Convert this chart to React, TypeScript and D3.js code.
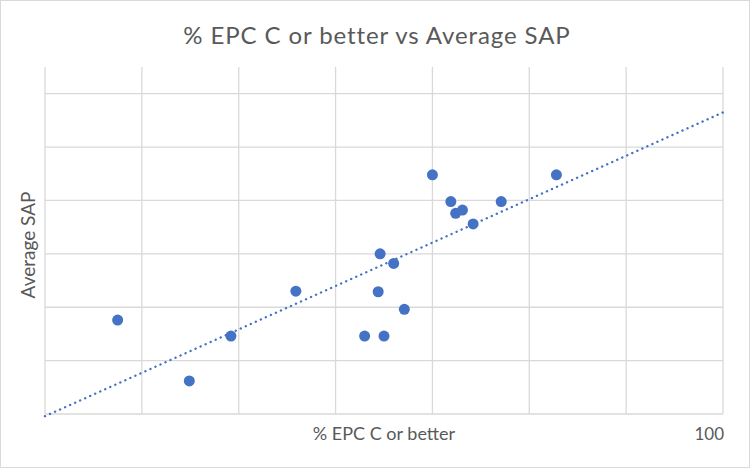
import * as d3 from "d3";

// % EPC C or better (x) against average SAP (y), one point per area
const EPC_PCT = [
  37.5, 44.9, 49.2, 55.9, 63.0, 65.0, 64.4, 64.6, 66.0, 67.1, 70.0, 71.9, 72.4,
  73.1, 74.2, 77.1, 82.8,
];
const AVG_SAP = [
  48.8, 43.1, 47.3, 51.5, 47.3, 47.3, 51.45, 55.0, 54.1, 49.8, 62.4, 59.9, 58.8,
  59.1, 57.8, 59.9, 62.4,
];
const X_DOMAIN = [30, 100];
const Y_DOMAIN = [40, 72.5];
const X_TICK_LABELS = ["100"];

const W = 751;
const H = 470;
const margin = { top: 67, right: 28, bottom: 56, left: 45 };
const BLUE = "#4472C4";
const GRID = "#D9D9D9";
const TEXT = "#595959";
const FONT = "Lato, 'Open Sans', sans-serif";

export default function App() {
  const x = d3.scaleLinear().domain(X_DOMAIN).range([margin.left, W - margin.right]);
  const y = d3.scaleLinear().domain(Y_DOMAIN).range([H - margin.bottom, margin.top]);

  const points = EPC_PCT.map((v, i) => ({ x: v, y: AVG_SAP[i] }));

  // linear trendline, least squares, drawn across the axis
  const mx = d3.mean(points, (d) => d.x)!;
  const my = d3.mean(points, (d) => d.y)!;
  const slope =
    d3.sum(points, (d) => (d.x - mx) * (d.y - my)) /
    d3.sum(points, (d) => (d.x - mx) ** 2);
  const icpt = my - slope * mx;
  const trend = d3
    .line<number>()
    .x((v) => x(v))
    .y((v) => y(slope * v + icpt))(X_DOMAIN);

  const xTicks = x.ticks(7);
  const yTicks = y.ticks(7);

  return (
    <svg
      width={W}
      height={H}
      style={{ position: "absolute", left: 0, top: 0, background: "#fff" }}
      fontFamily={FONT}
    >
      <rect x={0.5} y={0.5} width={W - 2} height={H - 3} fill="#fff" stroke={GRID} />

      <text x={377} y={44} textAnchor="middle" fontSize={24} letterSpacing={0.9} fill={TEXT}>
        % EPC C or better vs Average SAP
      </text>

      <g stroke={GRID} strokeWidth={1.3}>
        {yTicks.map((t) => (
          <line key={"h" + t} x1={margin.left} x2={W - margin.right} y1={y(t)} y2={y(t)} />
        ))}
        {xTicks.map((t) => (
          <line key={"v" + t} x1={x(t)} x2={x(t)} y1={margin.top} y2={H - margin.bottom} />
        ))}
      </g>

      {points.map((d, i) => (
        <circle key={i} cx={x(d.x)} cy={y(d.y)} r={5.5} fill={BLUE} />
      ))}

      <path
        d={trend!}
        fill="none"
        stroke={BLUE}
        strokeWidth={2.4}
        strokeLinecap="round"
        strokeDasharray="0.1 5.4"
      />

      <text x={x(100) + 1} y={440} textAnchor="end" fontSize={17} fill={TEXT}>
        {X_TICK_LABELS[0]}
      </text>
      <text x={384} y={440} textAnchor="middle" fontSize={18} fill={TEXT}>
        % EPC C or better
      </text>
      <text
        transform="translate(35, 245) rotate(-90)"
        textAnchor="middle"
        fontSize={19}
        fill={TEXT}
      >
        Average SAP
      </text>
    </svg>
  );
}
